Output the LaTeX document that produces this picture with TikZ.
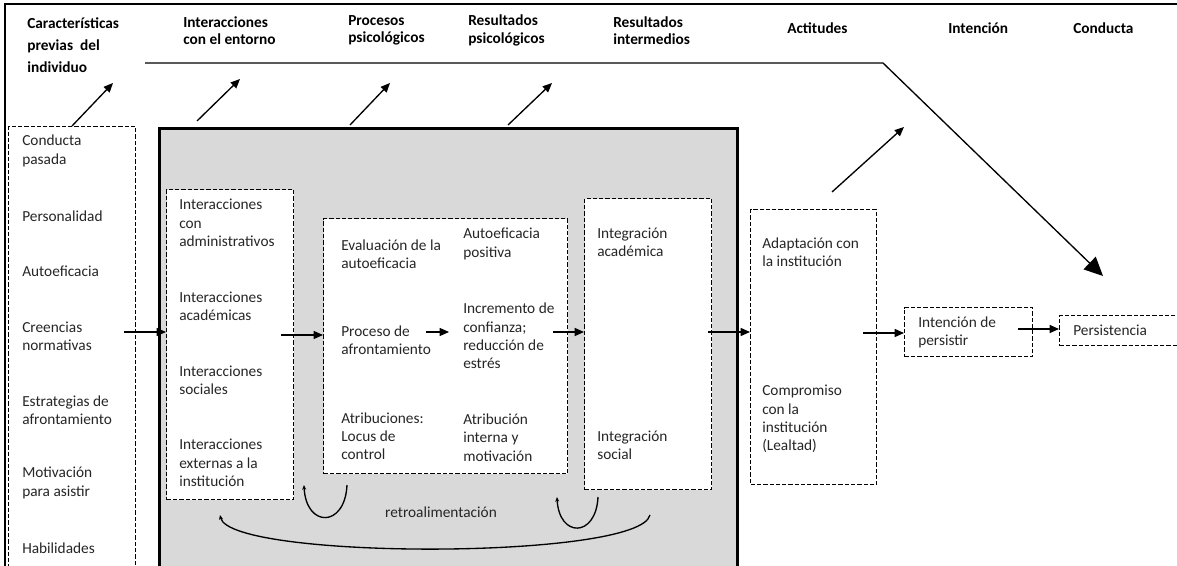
\documentclass[tikz,border=0pt]{standalone}
\usepackage{fontspec}
\setmainfont{Carlito}
\usetikzlibrary{arrows.meta}
\definecolor{boxgray}{RGB}{217,217,217}

\begin{document}
\begin{tikzpicture}[x=0.75pt, y=-0.75pt,
        every node/.style={font=\fontsize{11.5}{13.7}\selectfont},
        head/.style={font=\bfseries\fontsize{11.5}{13}\selectfont, align=left, anchor=west, inner sep=0pt},
        txt/.style={align=left, anchor=west, inner sep=0pt, text=black!85},
        dbox/.style={draw, dash pattern=on 3.2pt off 1.5pt, fill=white, anchor=north west, inner sep=0pt, line width=1.1pt},
        arr/.style={-{Triangle[length=7pt, width=6pt]}, line width=1pt},
        bigarr/.style={-{Triangle[length=14pt, width=13pt]}, line width=1pt},
        fb/.style={-{Stealth[length=3.5pt, width=3pt]}, line width=1pt}]
    \useasboundingbox (0,0) rectangle (1177,566);
    \clip (0,0) rectangle (1177,566);

    % marco
    \draw[line width=1.5pt] (5,600) -- (5,4) -- (1200,4);

    % cajas
    \node[draw, fill=boxgray, line width=2.3pt, anchor=north west, minimum width=433.5pt, minimum height=354.75pt] (gris) at (158,127) {};
    \node[dbox, minimum width=95.25pt, minimum height=355.5pt] (prevbox) at (8,126) {};
    \node[dbox, minimum width=95.25pt, minimum height=232.5pt] (interbox) at (166,189) {};
    \node[dbox, minimum width=183pt, minimum height=191.25pt] (procbox) at (323,218) {};
    \node[dbox, minimum width=95.25pt, minimum height=218.25pt] (integbox) at (584,198) {};
    \node[dbox, minimum width=94.5pt, minimum height=206.25pt] (actbox) at (750,209) {};
    \node[dbox, minimum width=96pt, minimum height=36.75pt] (intbox) at (904,307) {};
    \node[dbox, minimum width=105pt, minimum height=22.5pt] (persbox) at (1059,315) {};

    % encabezados
    \node[head, font=\bfseries\fontsize{11.5}{16.5}\selectfont] (hcarac) at (27,45) {Características\\previas~ del\\individuo};
    \node[head] (hinter) at (183,30.5) {Interacciones\\con el entorno};
    \node[head] (hproc) at (348,30.5) {Procesos\\psicológicos};
    \node[head] (hresps) at (468,30.5) {Resultados\\psicológicos};
    \node[head] (hresint) at (613,30.5) {Resultados\\intermedios};
    \node[head] (hactit) at (787,28) {Actitudes};
    \node[head] (hinten) at (948,28) {Intención};
    \node[head] (hcond) at (1073,28) {Conducta};

    % caracteristicas previas
    \node[txt] (conducta) at (22,151) {Conducta\\pasada};
    \node[txt] (person) at (22,216) {Personalidad};
    \node[txt] (autoef) at (22,271) {Autoeficacia};
    \node[txt] (creen) at (22,336) {Creencias\\normativas};
    \node[txt] (estrat) at (22,410) {Estrategias de\\afrontamiento};
    \node[txt] (motiv) at (22,483) {Motivación\\para asistir};
    \node[txt] (habil) at (22,548) {Habilidades};

    % interacciones
    \node[txt] (inter1) at (179,223) {Interacciones\\con\\administrativos};
    \node[txt] (inter2) at (179,306.5) {Interacciones\\académicas};
    \node[txt] (inter3) at (179,380) {Interacciones\\sociales};
    \node[txt] (inter4) at (179,463) {Interacciones\\externas a la\\institución};

    % procesos
    \node[txt] (evalu) at (341,254) {Evaluación de la\\autoeficacia};
    \node[txt] (afront) at (341,340.5) {Proceso de\\afrontamiento};
    \node[txt] (atrib) at (341,436) {Atribuciones:\\Locus de\\control};
    \node[txt] (autopos) at (463,244) {Autoeficacia\\positiva};
    \node[txt] (confi) at (463,336) {Incremento de\\confianza;\\reducción de\\estrés};
    \node[txt] (atrint) at (463,437.5) {Atribución\\interna y\\motivación};

    % integracion, actitudes, conducta
    \node[txt] (intacad) at (597,242) {Integración\\académica};
    \node[txt] (intsoc) at (597,445) {Integración\\social};
    \node[txt] (adapt) at (762,252.5) {Adaptación con\\la institución};
    \node[txt] (compro) at (762,419) {Compromiso\\con la\\institución\\(Lealtad)};
    \node[txt] (intpers) at (918,332.5) {Intención de\\persistir};
    \node[txt] (persis) at (1073,330) {Persistencia};
    \node[text=black!85] (retro) at (441,512) {retroalimentación};

    % flechas entre cajas
    \coordinate (filaA) at (0,332);
    \coordinate (filaB) at (0,335);
    \coordinate (filaC) at (0,333);
    \coordinate (filaD) at (0,329);
    \draw[arr] (prevbox.east |- filaA) ++(-12,0) -- (interbox.west |- filaA);
    \draw[arr] (interbox.east |- filaB) ++(-13,0) -- (procbox.west |- filaB);
    \draw[arr] (procbox.west |- filaA) ++(103,0) -- ++(23,0);
    \draw[arr] (procbox.east |- filaA) ++(-15,0) -- (integbox.west |- filaA);
    \draw[arr] (integbox.east |- filaA) ++(-4,0) -- (actbox.west |- filaA);
    \draw[arr] (actbox.east |- filaC) ++(-14,0) -- (intbox.west |- filaC);
    \draw[arr] (intbox.east |- filaD) ++(-15,0) -- (persbox.west |- filaD);

    % flechas de los encabezados
    \foreach \xa/\ya/\xb/\yb in {72/126/113/83, 197/121/240/79, 350/125/390/83, 508/125/552/83, 832/192/904/127}
        \draw[arr] (\xa,\ya) -- (\xb,\yb);
    \draw[bigarr] (145,63) -- (883,63) -- (1103,276);

    % retroalimentacion
    \draw[fb] (347,485) .. controls (345,528) and (306,528) .. (304,485);
    \draw[fb] (598,497) .. controls (596,538) and (559,538) .. (557,497);
    \draw[fb] (650,515) .. controls (640,560) and (230,560) .. (220,515);
\end{tikzpicture}
\end{document}
